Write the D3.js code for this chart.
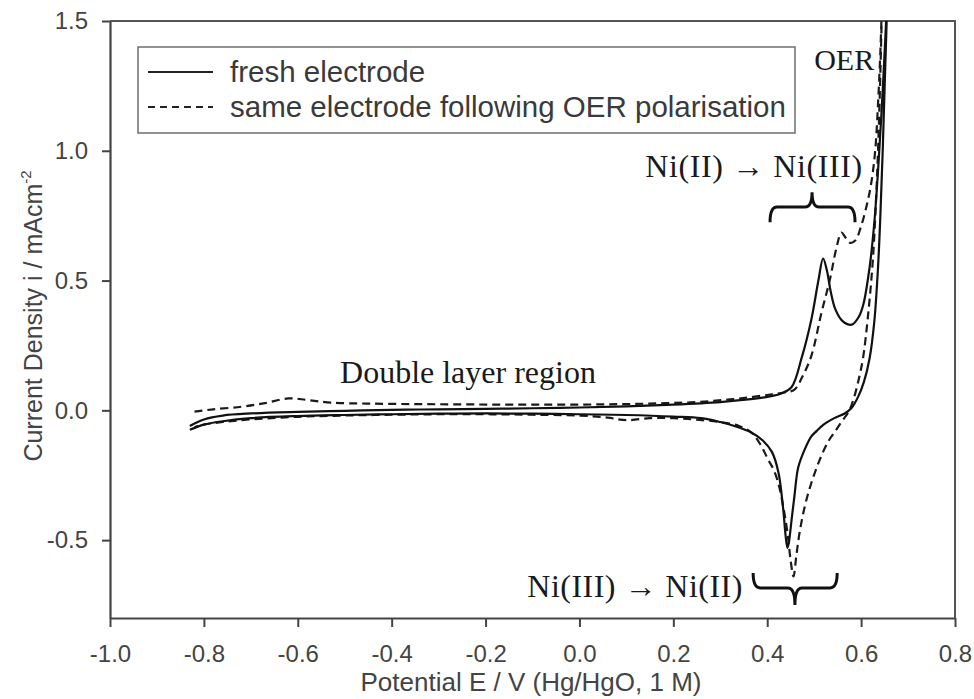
<!DOCTYPE html>
<html>
<head>
<meta charset="utf-8">
<script src="https://cdn.jsdelivr.net/npm/d3@7"></script>
<style>
  body { margin: 0; background: #fff; }
  svg { display: block; }
</style>
</head>
<body>
<div id="chart"></div>
<script>
// fresh electrode, one full scan (anodic sweep then cathodic sweep)
const freshE = [-0.83, -0.80, -0.76, -0.70, -0.60, -0.50, -0.40, -0.30, -0.20, -0.10, 0.00, 0.10, 0.20, 0.30, 0.36, 0.40, 0.43,
  0.452, 0.473, 0.494, 0.509, 0.519, 0.527, 0.535, 0.545, 0.56, 0.58, 0.595, 0.605, 0.618, 0.628, 0.637, 0.645, 0.652, 0.656,
  0.651, 0.646, 0.641, 0.636, 0.628, 0.618, 0.606, 0.593, 0.58, 0.565, 0.543, 0.52, 0.505, 0.494, 0.48, 0.466, 0.458, 0.452,
  0.446, 0.443, 0.439, 0.434, 0.424, 0.41, 0.39, 0.366, 0.33, 0.30, 0.259, 0.20, 0.10, 0.00, -0.10, -0.20, -0.30, -0.40,
  -0.50, -0.60, -0.70, -0.76, -0.80, -0.83];
const freshI = [-0.06, -0.035, -0.02, -0.012, -0.006, -0.002, 0.002, 0.004, 0.006, 0.008, 0.011, 0.015, 0.022, 0.032, 0.042, 0.052, 0.065,
  0.09, 0.20, 0.35, 0.50, 0.585, 0.54, 0.46, 0.39, 0.345, 0.33, 0.36, 0.41, 0.55, 0.72, 0.95, 1.2, 1.45, 1.6,
  1.3, 1.0, 0.75, 0.55, 0.34, 0.2, 0.11, 0.05, 0.01, -0.012, -0.03, -0.055, -0.08, -0.10, -0.15, -0.22, -0.33, -0.42,
  -0.51, -0.53, -0.48, -0.38, -0.24, -0.16, -0.115, -0.085, -0.06, -0.045, -0.03, -0.024, -0.018, -0.015, -0.013, -0.012, -0.013, -0.015,
  -0.018, -0.022, -0.03, -0.042, -0.055, -0.075];

// same electrode after OER polarisation
const oerE = [-0.82, -0.78, -0.72, -0.67, -0.62, -0.58, -0.53, -0.45, -0.35, -0.25, -0.15, -0.05, 0.05, 0.15, 0.25, 0.32, 0.37,
  0.41, 0.44, 0.458, 0.475, 0.494, 0.516, 0.533, 0.548, 0.558, 0.567, 0.577, 0.588, 0.60, 0.612, 0.622, 0.63, 0.636, 0.641, 0.645,
  0.641, 0.637, 0.632, 0.625, 0.615, 0.604, 0.595, 0.585, 0.575, 0.56, 0.545, 0.53, 0.512, 0.494, 0.48, 0.469, 0.462, 0.456,
  0.45, 0.443, 0.435, 0.425, 0.414, 0.402, 0.385, 0.366, 0.34, 0.30, 0.25, 0.20, 0.15, 0.10, 0.06, 0.00, -0.10, -0.20,
  -0.30, -0.40, -0.50, -0.60, -0.70, -0.76, -0.80, -0.82];
const oerI = [-0.005, 0.004, 0.014, 0.028, 0.046, 0.04, 0.03, 0.026, 0.024, 0.023, 0.022, 0.022, 0.023, 0.026, 0.032, 0.042, 0.052,
  0.062, 0.07, 0.08, 0.13, 0.21, 0.38, 0.50, 0.63, 0.685, 0.665, 0.645, 0.655, 0.71, 0.79, 0.88, 1.0, 1.18, 1.38, 1.6,
  1.3, 1.05, 0.82, 0.58, 0.37, 0.2, 0.12, 0.05, 0.0, -0.04, -0.08, -0.12, -0.19, -0.28, -0.37, -0.47, -0.56, -0.64,
  -0.58, -0.47, -0.38, -0.29, -0.23, -0.19, -0.13, -0.085, -0.06, -0.045, -0.036, -0.03, -0.03, -0.038, -0.028, -0.02, -0.017, -0.015,
  -0.015, -0.017, -0.02, -0.025, -0.035, -0.045, -0.055, -0.065];

const xTicks = [-1.0, -0.8, -0.6, -0.4, -0.2, 0.0, 0.2, 0.4, 0.6, 0.8];
const yTicks = [-0.5, 0.0, 0.5, 1.0, 1.5];
const seriesNames = ["fresh electrode", "same electrode following OER polarisation"];

const width = 974;
const height = 699;
const margin = { top: 21, right: 19, bottom: 81, left: 110 };

const svg = d3.select("#chart").append("svg")
  .attr("width", width)
  .attr("height", height);

const x = d3.scaleLinear().domain([-1, 0.8]).range([margin.left, width - margin.right]);
const y = d3.scaleLinear().domain([-0.8, 1.5]).range([height - margin.bottom, margin.top]);

const axisColor = "#444";
const sans = "'Liberation Sans', Arial, sans-serif";
const serif = "'Liberation Serif', 'Times New Roman', serif";

svg.append("clipPath").attr("id", "plot-clip")
  .append("rect")
  .attr("x", x(-1)).attr("y", y(1.5))
  .attr("width", x(0.8) - x(-1)).attr("height", y(-0.8) - y(1.5));

// axes
const gX = svg.append("g").attr("transform", `translate(0, ${y(-0.8)})`)
  .call(d3.axisBottom(x).tickValues(xTicks).tickFormat(d => d.toFixed(1)).tickSizeInner(9).tickSizeOuter(0).tickPadding(18));
const gY = svg.append("g").attr("transform", `translate(${x(-1)}, 0)`)
  .call(d3.axisLeft(y).tickValues(yTicks).tickFormat(d => d.toFixed(1)).tickSizeInner(8).tickSizeOuter(0).tickPadding(14));

[gX, gY].forEach(g => {
  g.select(".domain").attr("stroke", axisColor).attr("stroke-width", 2.2);
  g.selectAll(".tick line").attr("stroke", axisColor).attr("stroke-width", 2);
  g.selectAll(".tick text").attr("fill", "#444").style("font-family", sans).style("font-size", "24px");
});

// top and right frame
svg.append("path")
  .attr("d", `M${x(-1)},${y(1.5)}H${x(0.8)}V${y(-0.8)}`)
  .attr("fill", "none").attr("stroke", "#555").attr("stroke-width", 2);

// axis titles
svg.append("text")
  .attr("x", 531).attr("y", 691)
  .attr("text-anchor", "middle")
  .attr("fill", "#444")
  .style("font-family", sans).style("font-size", "26px")
  .text("Potential E / V (Hg/HgO, 1 M)");

const yTitle = svg.append("text")
  .attr("transform", "translate(42, 316) rotate(-90)")
  .attr("text-anchor", "middle")
  .attr("fill", "#444")
  .style("font-family", sans).style("font-size", "25px");
yTitle.append("tspan").text("Current Density i / mAcm");
yTitle.append("tspan").attr("dy", -11).style("font-size", "15px").text("-2");

// curves
const line = d3.line()
  .x(d => x(d[0]))
  .y(d => y(d[1]))
  .curve(d3.curveCatmullRom.alpha(0.5));

const plot = svg.append("g").attr("clip-path", "url(#plot-clip)");

plot.append("path")
  .datum(d3.zip(oerE, oerI))
  .attr("d", line)
  .attr("fill", "none")
  .attr("stroke", "#1a1a1a")
  .attr("stroke-width", 2.2)
  .attr("stroke-dasharray", "8,5");

plot.append("path")
  .datum(d3.zip(freshE, freshI))
  .attr("d", line)
  .attr("fill", "none")
  .attr("stroke", "#111")
  .attr("stroke-width", 2.2);

// legend
const legend = svg.append("g");
legend.append("rect")
  .attr("x", 138).attr("y", 47).attr("width", 657).attr("height", 86)
  .attr("fill", "#fff").attr("stroke", "#777").attr("stroke-width", 1.6);

seriesNames.forEach((name, i) => {
  const ly = 72 + i * 35;
  legend.append("line")
    .attr("x1", 148).attr("x2", 213).attr("y1", ly).attr("y2", ly)
    .attr("stroke", "#222").attr("stroke-width", 2)
    .attr("stroke-dasharray", i === 0 ? null : "7,5");
  legend.append("text")
    .attr("x", 230).attr("y", ly + 10)
    .attr("fill", "#3a3a3a")
    .style("font-family", sans).style("font-size", "29.5px")
    .text(name);
});

// annotations
const notes = [
  { text: "OER", E: 0.5, I: 1.31, size: 30, len: null },
  { text: "Ni(II) \u2192 Ni(III)", E: 0.14, I: 0.9, size: 32, len: 217 },
  { text: "Double layer region", E: -0.51, I: 0.105, size: 32, len: null },
  { text: "Ni(III) \u2192 Ni(II)", E: -0.111, I: -0.719, size: 32, len: 215 }
];
svg.selectAll("text.note").data(notes).enter().append("text")
  .attr("class", "note")
  .attr("x", d => x(d.E)).attr("y", d => y(d.I))
  .attr("textLength", d => d.len)
  .attr("lengthAdjust", "spacing")
  .attr("fill", "#1a1a1a")
  .style("font-family", serif)
  .style("font-size", d => d.size + "px")
  .text(d => d.text);

// curly braces marking the redox peaks
const braces = [
  { E0: 0.406, E1: 0.587, Em: 0.4955, line: 0.783, tip: 0.84, end: 0.725 },
  { E0: 0.370, E1: 0.549, Em: 0.459, line: -0.684, tip: -0.75, end: -0.627 }
];
svg.selectAll("path.brace").data(braces).enter().append("path")
  .attr("class", "brace")
  .attr("d", b => {
    const x0 = x(b.E0), x1 = x(b.E1), xm = x(b.Em);
    const yl = y(b.line), yt = y(b.tip), ye = y(b.end);
    return `M${x0},${ye}Q${x0},${yl} ${x0 + 7},${yl}L${xm - 7},${yl}Q${xm},${yl} ${xm},${yt}` +
      `Q${xm},${yl} ${xm + 7},${yl}L${x1 - 7},${yl}Q${x1},${yl} ${x1},${ye}`;
  })
  .attr("fill", "none")
  .attr("stroke", "#111")
  .attr("stroke-width", 3);
</script>
</body>
</html>
